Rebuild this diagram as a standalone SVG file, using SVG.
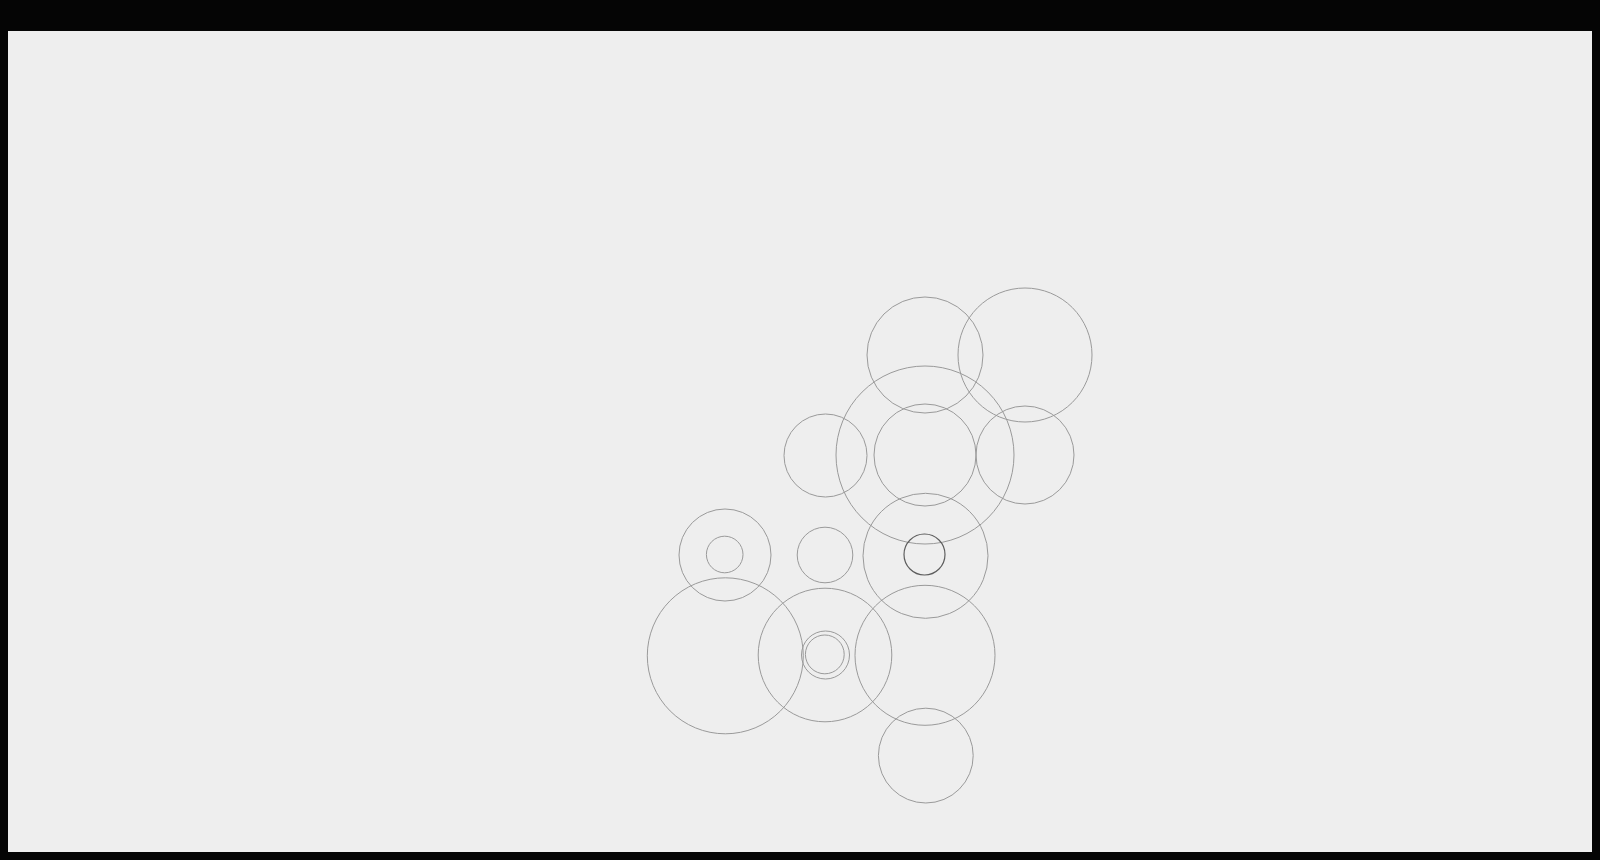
<svg xmlns="http://www.w3.org/2000/svg" width="1600" height="860" viewBox="0 0 1600 860">
<style>
.c{fill:none;stroke:#9a9a9a;stroke-width:1}
.d{fill:none;stroke:#5e5e5e;stroke-width:1.2}
</style>
<rect x="0" y="0" width="1600" height="860" fill="#050505"/>
<rect x="8" y="31" width="1584" height="821" fill="#eeeeee"/>
<g id="shapes">
<circle class="c" cx="925" cy="355" r="58"/>
<circle class="c" cx="1025" cy="355" r="67"/>
<circle class="c" cx="925" cy="455" r="89"/>
<circle class="c" cx="925" cy="455" r="51"/>
<circle class="c" cx="825.5" cy="455.5" r="41.5"/>
<circle class="c" cx="1025" cy="455" r="49"/>
<circle class="c" cx="725" cy="555" r="46"/>
<circle class="c" cx="724.7" cy="554.5" r="18.3"/>
<circle class="c" cx="825" cy="555" r="27.8"/>
<circle class="c" cx="925.5" cy="555.8" r="62.5"/>
<circle class="d" cx="924.5" cy="554.5" r="20.5"/>
<circle class="c" cx="725.3" cy="655.8" r="78"/>
<circle class="c" cx="825" cy="655" r="66.8"/>
<circle class="c" cx="825.5" cy="655" r="24"/>
<circle class="c" cx="824.8" cy="654.4" r="19.4"/>
<circle class="c" cx="925" cy="655.3" r="70"/>
<circle class="c" cx="925.8" cy="755.6" r="47.4"/>
</g>
</svg>
